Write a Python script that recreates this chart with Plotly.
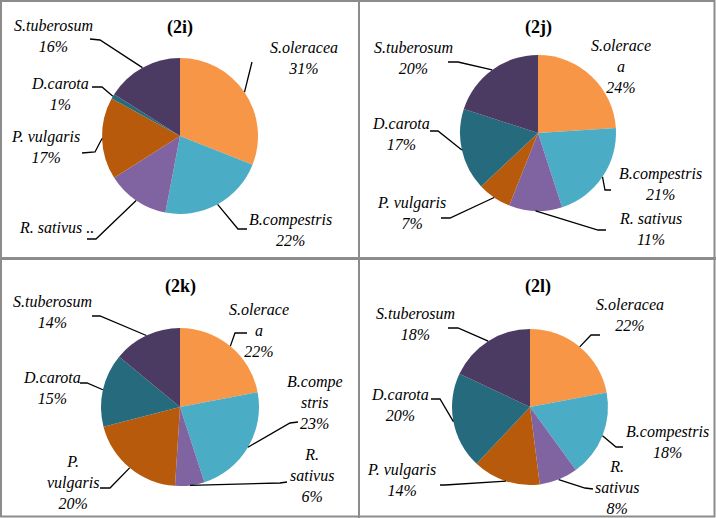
import math
import plotly.graph_objects as go

W, H = 716, 518

# ---------------- data ----------------
species = ["S.oleracea", "B.compestris", "R. sativus", "P. vulgaris", "D.carota", "S.tuberosum"]
panel_titles = ["(2i)", "(2j)", "(2k)", "(2l)"]

values_2i = [31, 22, 13, 17, 1, 16]
values_2j = [24, 21, 11, 7, 17, 20]
values_2k = [22, 23, 6, 20, 15, 14]
values_2l = [22, 18, 8, 14, 20, 18]

# displayed (wrapped) names per panel
names_2i = ["S.oleracea", "B.compestris", "R. sativus ..", "P. vulgaris", "D.carota", "S.tuberosum"]
names_2j = ["S.olerace<br>a", "B.compestris", "R. sativus", "P. vulgaris", "D.carota", "S.tuberosum"]
names_2k = ["S.olerace<br>a", "B.compe<br>stris", "R.<br>sativus", "P.<br>vulgaris", "D.carota", "S.tuberosum"]
names_2l = ["S.oleracea", "B.compestris", "R.<br>sativus", "P. vulgaris", "D.carota", "S.tuberosum"]
show_pct_2i = [True, True, False, True, True, True]
show_pct_all = [True] * 6

colors = ["#F79646", "#4BACC6", "#8064A2", "#B85A0C", "#256A7D", "#4B3A62"]

# ---------------- layout (pixel positions) ----------------
panels = [
    dict(title=panel_titles[0], values=values_2i, names=names_2i, pct=show_pct_2i,
         center=(180, 136), r=78, title_pos=(180, 27),
         labels=[(304, 58.5), (290, 229.5), (56, 227), (45, 147.5), (60, 93.5), (53, 35.5)],
         leaders=[[(252, 62)], [(238, 229), (247, 229)], [(96, 239), (87, 239)],
                  [(95, 152), (82, 153)], [(102, 87), (92, 87)], [(100, 40), (90, 39)]]),
    dict(title=panel_titles[1], values=values_2j, names=names_2j, pct=show_pct_all,
         center=(538, 133), r=78, title_pos=(538, 27),
         labels=[(621, 67), (660, 184), (650, 229), (411, 212.5), (401, 134), (413, 58)],
         leaders=[None, [(605, 190), (611, 190)], [(598, 230), (606, 230)],
                  [(450, 218), (441, 218)], [(438, 131), (430, 131)], [(458, 62), (448, 62)]]),
    dict(title=panel_titles[2], values=values_2k, names=names_2k, pct=show_pct_all,
         center=(180, 407), r=79, title_pos=(180, 286),
         labels=[(259, 330), (315, 402.5), (312, 475.5), (73, 482), (52, 388), (52, 312)],
         leaders=[[(235, 333), (247, 333)], [(290, 423), (298, 422)], [(280, 483), (287, 482)],
                  [(110, 488), (100, 488)], [(87, 383), (80, 383)], [(100, 316), (92, 316)]]),
    dict(title=panel_titles[3], values=values_2l, names=names_2l, pct=show_pct_all,
         center=(530, 407), r=78, title_pos=(538, 286),
         labels=[(630, 315), (667, 442), (617, 487), (401, 480), (400, 405), (415, 323.5)],
         leaders=[[(591, 335), (600, 335)], [(616, 447), (623, 447)], [(585, 488), (593, 489)],
                  [(445, 485), (440, 485)], [(440, 399), (431, 399)], [(458, 328), (448, 328)]]),
]


def X(px):
    return px / W


def Y(py):
    return 1 - py / H


fig = go.Figure()
annotations = []
shapes = []

for p in panels:
    cx, cy = p["center"]
    r = p["r"]
    fig.add_trace(go.Pie(
        values=p["values"], labels=species, sort=False, direction="clockwise", rotation=0,
        textinfo="none", hoverinfo="label+percent", showlegend=False,
        marker=dict(colors=colors, line=dict(width=0)),
        domain=dict(x=[X(cx - r), X(cx + r)], y=[Y(cy + r), Y(cy - r)]),
    ))
    tx, ty = p["title_pos"]
    annotations.append(dict(x=X(tx), y=Y(ty), xref="paper", yref="paper", text="<b>%s</b>" % p["title"],
                            showarrow=False, xanchor="center", yanchor="middle",
                            font=dict(family="Liberation Serif", size=18, color="black")))
    total = sum(p["values"])
    cum = 0
    for i, v in enumerate(p["values"]):
        mid = (cum + v / 2) / total
        cum += v
        theta = 2 * math.pi * mid
        ex = cx + r * math.sin(theta)
        ey = cy - r * math.cos(theta)
        txt = p["names"][i] + ("<br>%d%%" % v if p["pct"][i] else "")
        lx, ly = p["labels"][i]
        annotations.append(dict(x=X(lx), y=Y(ly), xref="paper", yref="paper", text="<i>%s</i>" % txt,
                                showarrow=False, xanchor="center", yanchor="middle", align="center",
                                font=dict(family="Liberation Serif", size=16, color="black")))
        pts = p["leaders"][i]
        if pts:
            path = "M %f %f" % (X(ex), Y(ey))
            for (qx, qy) in pts:
                path += " L %f %f" % (X(qx), Y(qy))
            shapes.append(dict(type="path", path=path, xref="paper", yref="paper",
                               line=dict(color="black", width=1.3)))

# panel frame
frame = dict(color="#8c8c8c", width=2)
shapes.append(dict(type="rect", xref="paper", yref="paper", x0=X(1), x1=X(714.5), y0=Y(516.5), y1=Y(1), line=frame))
shapes.append(dict(type="line", xref="paper", yref="paper", x0=X(359), x1=X(359), y0=Y(0), y1=Y(518), line=frame))
shapes.append(dict(type="line", xref="paper", yref="paper", x0=X(0), x1=X(716), y0=Y(258.5), y1=Y(258.5), line=dict(color="#8c8c8c", width=3)))

fig.update_layout(width=W, height=H, margin=dict(l=0, r=0, t=0, b=0),
                  paper_bgcolor="white", plot_bgcolor="white",
                  annotations=annotations, shapes=shapes)

fig.write_html("out.html", config={"displayModeBar": False},
               post_script="document.body.style.margin='0';document.body.style.overflow='hidden';")
